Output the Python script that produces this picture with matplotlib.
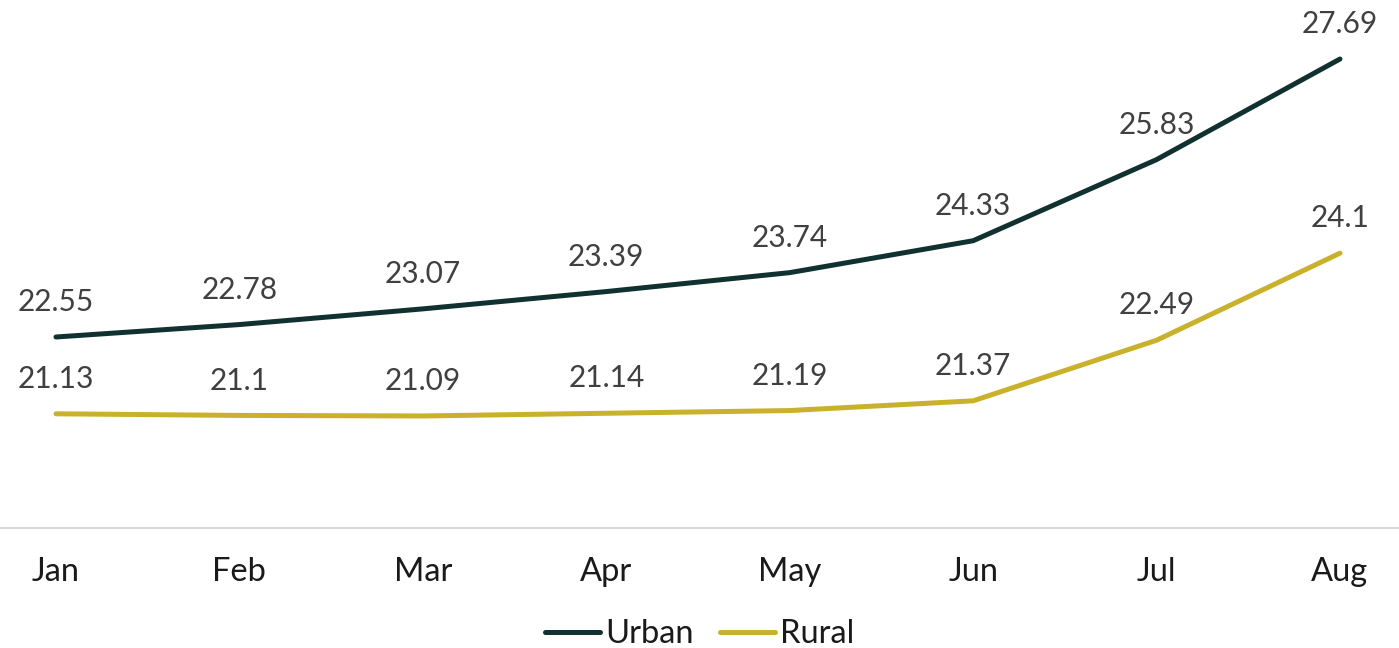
import matplotlib
matplotlib.use("Agg")
import matplotlib.pyplot as plt

months = ["Jan", "Feb", "Mar", "Apr", "May", "Jun", "Jul", "Aug"]
urban = [22.55, 22.78, 23.07, 23.39, 23.74, 24.33, 25.83, 27.69]
rural = [21.13, 21.1, 21.09, 21.14, 21.19, 21.37, 22.49, 24.1]

urban_color = "#10312F"
rural_color = "#C9B12C"
label_color = "#404040"

plt.rcParams['font.family'] = ['Lato', 'DejaVu Sans']

W, H = 1399, 648
fig = plt.figure(figsize=(W / 100, H / 100), dpi=100)
ax_bottom_px = 528
ax = fig.add_axes([0, 1 - ax_bottom_px / H, 1, ax_bottom_px / H])

x = list(range(len(months)))
ax.plot(x, urban, color=urban_color, lw=3.6, solid_capstyle='round', label="Urban")
ax.plot(x, rural, color=rural_color, lw=3.6, solid_capstyle='round', label="Rural")

for xi, v in zip(x, urban):
    ax.annotate(f"{v:g}", (xi, v), xytext=(0, 15), textcoords='offset points',
                ha='center', va='bottom', fontsize=21.5, color=label_color)
for xi, v in zip(x, rural):
    ax.annotate(f"{v:g}", (xi, v), xytext=(0, 15), textcoords='offset points',
                ha='center', va='bottom', fontsize=21.5, color=label_color)

# x scale: Jan at 56 px, Aug at 1340 px
step = (1340 - 56) / 7
ax.set_xlim(-56 / step, 7 + (W - 1340) / step)
# y scale: 22.55 at 337 px, 27.69 at 59 px
ppu = (337 - 59) / (27.69 - 22.55)
ax.set_ylim(22.55 - (ax_bottom_px - 337) / ppu, 22.55 + 337 / ppu)

ax.set_xticks(x)
ax.set_xticklabels(months, fontsize=23.5, color="#1a1a1a")
ax.tick_params(axis='x', length=0, pad=21)
ax.set_yticks([])
for s in ["top", "left", "right"]:
    ax.spines[s].set_visible(False)
ax.spines["bottom"].set_color("#D9D9D9")
ax.spines["bottom"].set_linewidth(1.5)
ax.patch.set_visible(False)

leg = fig.legend(loc='center', bbox_to_anchor=(0.5, 1 - 634 / H), ncol=2, frameon=False,
                 fontsize=23.5, handlelength=1.7, handletextpad=0.15, columnspacing=0.8)
for t in leg.get_texts():
    t.set_color("#1a1a1a")

fig.savefig("out.png", dpi=100)
